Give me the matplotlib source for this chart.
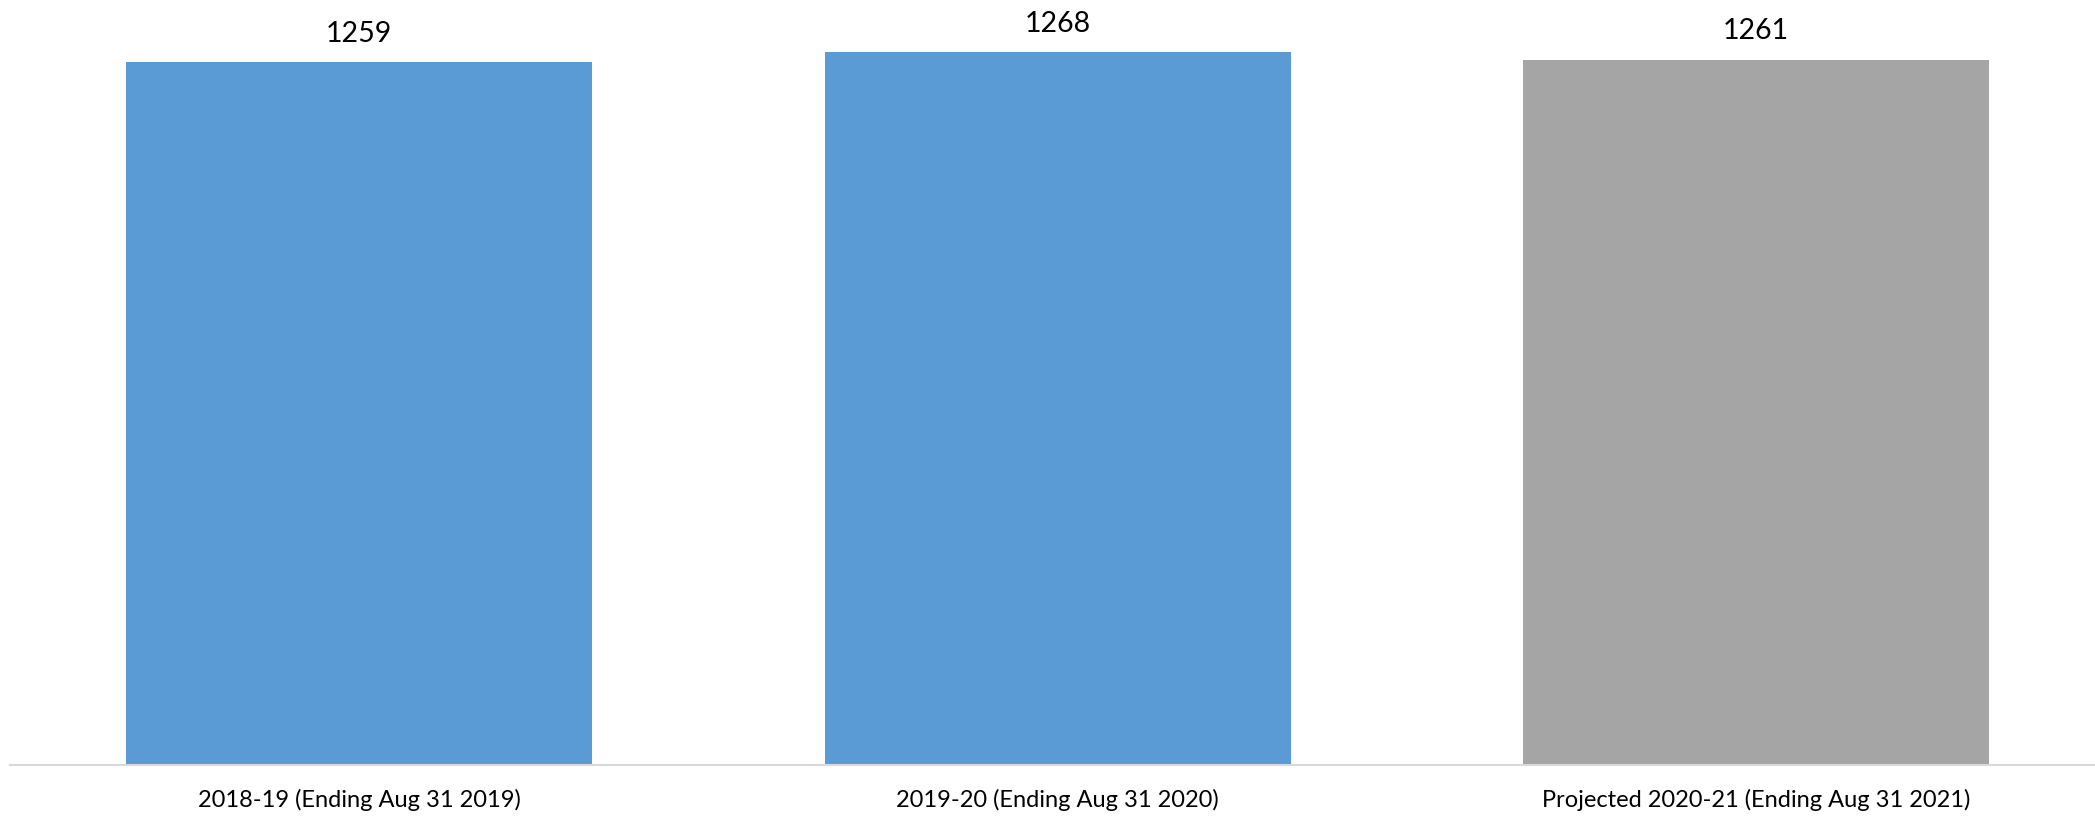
import matplotlib
matplotlib.use('Agg')
import matplotlib.pyplot as plt

# 数据
categories = ['2018-19 (Ending Aug 31 2019)',
              '2019-20 (Ending Aug 31 2020)',
              'Projected 2020-21 (Ending Aug 31 2021)']
values = [1259, 1268, 1261]

bar_colors = ['#5B9BD5', '#5B9BD5', '#A5A5A5']

plt.rcParams['font.family'] = ['Lato', 'DejaVu Sans']

W, H = 2095, 818
fig = plt.figure(figsize=(W / 100, H / 100), dpi=100)
# 绘图区域 (按像素位置换算)
ax = fig.add_axes([10 / W, 53 / H, 2085 / W, 765 / H])

x = range(len(categories))
bars = ax.bar(x, values, width=0.667, color=bar_colors)
ax.bar_label(bars, labels=[str(v) for v in values], padding=11, fontsize=20.5, color='black')

ax.set_xlim(-0.5, 2.485)
ax.set_ylim(600, 1317)
ax.set_yticks([])
ax.set_xticks(list(x))
ax.set_xticklabels(categories, fontsize=17, color='black')
ax.tick_params(axis='x', length=0, pad=17)

for side in ['top', 'left', 'right']:
    ax.spines[side].set_visible(False)
ax.spines['bottom'].set_color('#D9D9D9')
ax.spines['bottom'].set_linewidth(1.5)

fig.savefig('out.png', dpi=100)
